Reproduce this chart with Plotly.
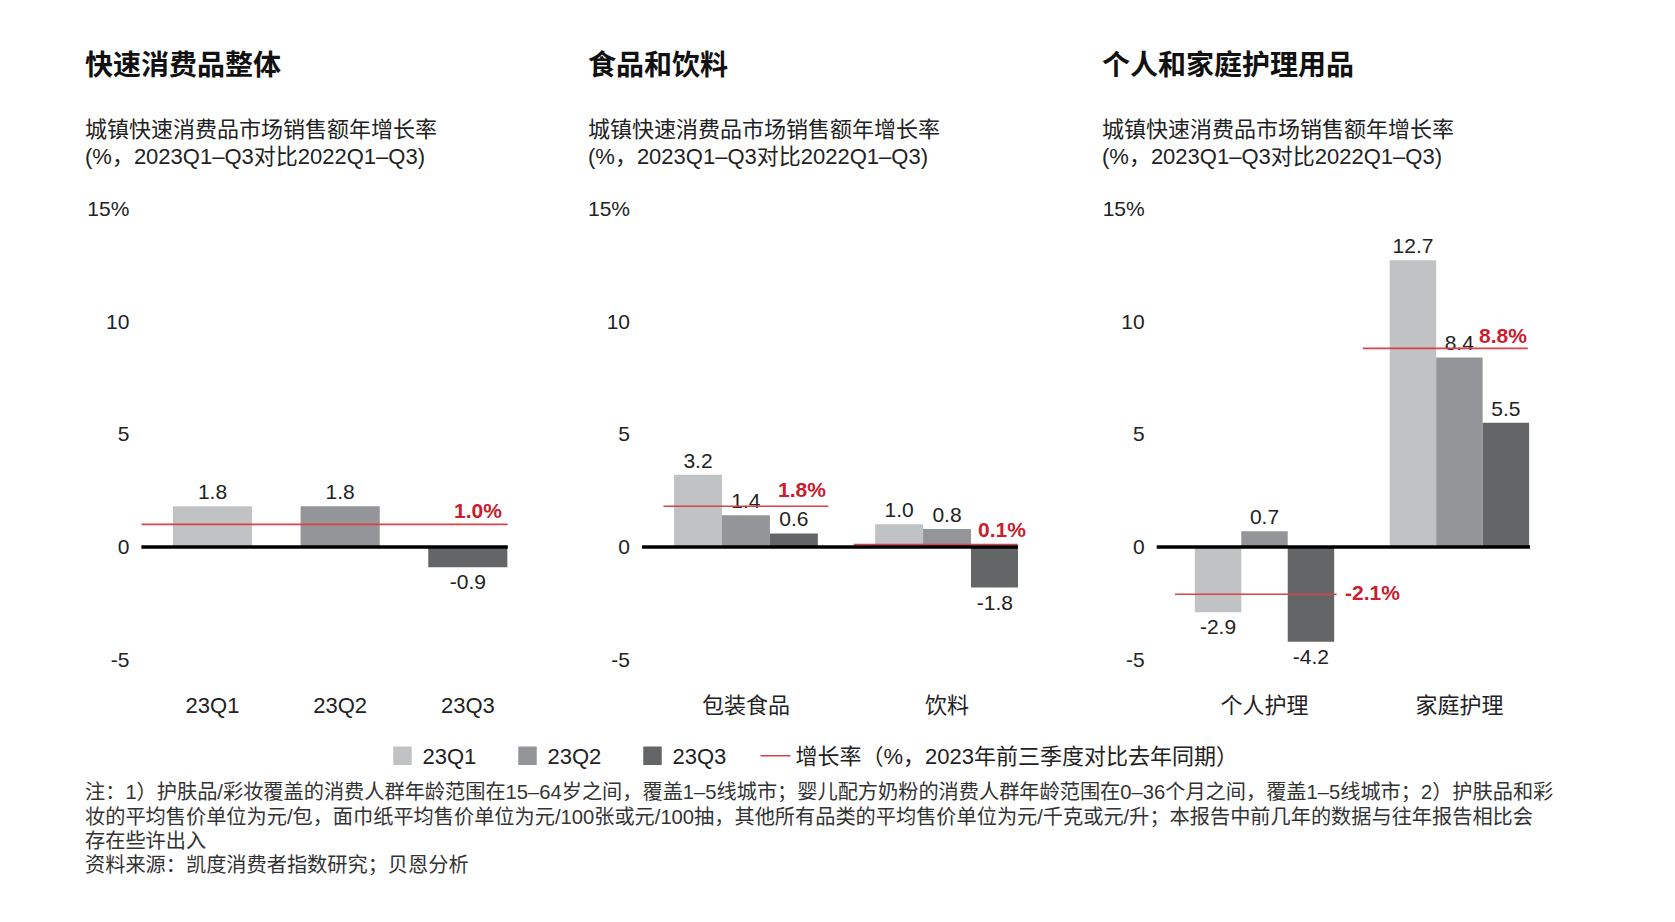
import plotly.graph_objects as go

# ---- data ----
quarters = ['23Q1', '23Q2', '23Q3']
overall_growth = [1.8, 1.8, -0.9]
overall_rate = 1.0

food_cats = ['包装食品', '饮料']
food_q1 = [3.2, 1.0]
food_q2 = [1.4, 0.8]
food_q3 = [0.6, -1.8]
food_rate = [1.8, 0.1]

care_cats = ['个人护理', '家庭护理']
care_q1 = [-2.9, 12.7]
care_q2 = [0.7, 8.4]
care_q3 = [-4.2, 5.5]
care_rate = [-2.1, 8.8]

y_ticks = [-5, 0, 5, 10, 15]
y_tick_text = ['-5', '0', '5', '10', '15%']

titles = ['快速消费品整体', '食品和饮料', '个人和家庭护理用品']
subtitle_lines = ['城镇快速消费品市场销售额年增长率', '(%，2023Q1–Q3对比2022Q1–Q3)']
rate_name = '增长率（%，2023年前三季度对比去年同期）'
notes = [
    '注：1）护肤品/彩妆覆盖的消费人群年龄范围在15–64岁之间，覆盖1–5线城市；婴儿配方奶粉的消费人群年龄范围在0–36个月之间，覆盖1–5线城市；2）护肤品和彩',
    '妆的平均售价单位为元/包，面巾纸平均售价单位为元/100张或元/100抽，其他所有品类的平均售价单位为元/千克或元/升；本报告中前几年的数据与往年报告相比会',
    '存在些许出入',
    '资料来源：凯度消费者指数研究；贝恩分析',
]

# ---- style ----
# page body keeps its default 8px margin, so the figure is sized to fit inside it
OFF = 8
W, H = 1675 - 2 * OFF, 922 - 2 * OFF
FONT = 'Liberation Sans, Arial, Noto Sans CJK SC, sans-serif'
q_colors = ['#C1C2C4', '#939598', '#646567']
RED_LINE = '#D8424B'
RED_TEXT = '#C8202E'
TXT = '#222222'


def px(x):
    return (x - OFF) / W


def py(y):
    # vertical placement tuned against the photographed page
    y = 1.0256 * y - 13.5
    return 1 - (y - OFF) / H


y_dom = [py(661), py(209.5)]
x_doms = [[px(141.4), px(507.8)], [px(642), px(1018)], [px(1156.7), px(1530)]]
x_ranges = [[-0.557, 2.313], [-0.517, 1.353], [-0.553, 1.362]]
title_x = [82.5, 586, 1099.5]

# extent of each red growth segment around its category (category units)
food_seg = [(-0.41, 0.41), (-0.464, 0.351)]
care_seg = [(-0.459, 0.37), (-0.495, 0.351)]
# label placement: xanchor, xshift, yanchor, yshift
overall_lab = ('right', -4, 'middle', 14)
food_lab = [('right', 0, 'middle', 17), ('right', 10, 'middle', 15)]
care_lab = [('left', 6, 'middle', 2), ('right', 1, 'middle', 13)]

fig = go.Figure()

# legend entries for the quarters
for name, col in zip(quarters, q_colors):
    fig.add_trace(go.Scatter(x=[None], y=[None], mode='markers', name=name,
                             marker=dict(symbol='square', size=16, color=col,
                                         line=dict(color=col, width=2.5)),
                             xaxis='x', yaxis='y', legend='legend'))

bar_text = dict(texttemplate='%{y:.1f}', textposition='outside',
                textfont=dict(size=21, color=TXT, family=FONT),
                cliponaxis=False, showlegend=False, hoverinfo='skip')

# panel 1: one bar per quarter
fig.add_trace(go.Bar(x=list(range(len(quarters))), y=overall_growth,
                     marker=dict(color=q_colors, line=dict(width=0)),
                     width=0.62, xaxis='x', yaxis='y', **bar_text))

# panels 2 and 3: grouped bars
for ax, series in [('2', [food_q1, food_q2, food_q3]), ('3', [care_q1, care_q2, care_q3])]:
    for vals, col in zip(series, q_colors):
        fig.add_trace(go.Bar(x=list(range(len(vals))), y=vals,
                             marker=dict(color=col, line=dict(width=0)),
                             xaxis='x' + ax, yaxis='y' + ax, **bar_text))

# growth rate lines
rate_x = [[x_ranges[0][0], x_ranges[0][1]]]
rate_y = [[overall_rate, overall_rate]]
for rates, segs in [(food_rate, food_seg), (care_rate, care_seg)]:
    xs, ys = [], []
    for i, (r, (a, b)) in enumerate(zip(rates, segs)):
        xs += [i + a, i + b, None]
        ys += [r, r, None]
    rate_x.append(xs)
    rate_y.append(ys)

for k, (xs, ys) in enumerate(zip(rate_x, rate_y)):
    suffix = '' if k == 0 else str(k + 1)
    fig.add_trace(go.Scatter(x=xs, y=ys, mode='lines', name=rate_name,
                             line=dict(color=RED_LINE, width=1.6),
                             legend='legend2', legendgroup='rate', showlegend=(k == 0),
                             xaxis='x' + suffix, yaxis='y' + suffix, hoverinfo='skip'))

annotations = []
shapes = []

# red rate labels (anchored just inside the axis range so they are not hidden)
rate_labels = [('', x_ranges[0][1] - 0.001, overall_rate, overall_lab)]
for ax, rates, segs, labs in [('2', food_rate, food_seg, food_lab), ('3', care_rate, care_seg, care_lab)]:
    for i, r in enumerate(rates):
        rate_labels.append((ax, i + segs[i][1], r, labs[i]))
for ax, xv, r, (xa, xs, ya, ysh) in rate_labels:
    annotations.append(dict(x=xv, y=r, xref='x' + ax, yref='y' + ax,
                            text='<b>%.1f%%</b>' % r, showarrow=False,
                            xanchor=xa, yanchor=ya, xshift=xs, yshift=ysh,
                            font=dict(size=21, color=RED_TEXT, family=FONT)))

# titles and subtitles
for tx, t in zip(title_x, titles):
    annotations.append(dict(x=px(tx), y=py(66.4), xref='paper', yref='paper',
                            text='<b>' + t + '</b>', showarrow=False,
                            xanchor='left', yanchor='middle',
                            font=dict(size=28, color='#111111', family=FONT)))
    for j, line in enumerate(subtitle_lines):
        annotations.append(dict(x=px(tx), y=py(130.7 + j * 26.8), xref='paper', yref='paper',
                                text=line, showarrow=False,
                                xanchor='left', yanchor='middle',
                                font=dict(size=22, color=TXT, family=FONT)))

# footnotes
for i, line in enumerate(notes):
    annotations.append(dict(x=px(82.5), y=py(793.7 + i * 24.3), xref='paper', yref='paper',
                            text=line, showarrow=False, xanchor='left', yanchor='middle',
                            font=dict(size=20.2, color='#333333', family=FONT)))

# zero lines
for ax in ['', '2', '3']:
    shapes.append(dict(type='line', xref='x' + ax + ' domain', yref='y' + ax,
                       x0=0, x1=1, y0=0, y1=0, layer='above',
                       line=dict(color='black', width=3.5)))

legend_common = dict(orientation='h', xanchor='left', y=py(757.3), yanchor='middle',
                     font=dict(size=22, color=TXT, family=FONT), bgcolor='rgba(0,0,0,0)')

layout = dict(
    width=W, height=H,
    margin=dict(l=0, r=0, t=0, b=0),
    paper_bgcolor='white', plot_bgcolor='white',
    font=dict(family=FONT, color=TXT),
    barmode='group', bargap=0.285, bargroupgap=0,
    annotations=annotations, shapes=shapes,
    legend=dict(x=px(382.5), entrywidth=80, **legend_common),
    legend2=dict(x=px(755.5), **legend_common),
)
cat_sets = [quarters, food_cats, care_cats]
for k in range(3):
    suffix = '' if k == 0 else str(k + 1)
    layout['xaxis' + suffix] = dict(domain=x_doms[k], range=x_ranges[k],
                                    tickvals=list(range(len(cat_sets[k]))),
                                    ticktext=cat_sets[k], anchor='y' + suffix,
                                    showgrid=False, zeroline=False, showline=False,
                                    ticks='', ticklabelstandoff=30, fixedrange=True,
                                    tickfont=dict(size=22, color=TXT, family=FONT))
    layout['yaxis' + suffix] = dict(domain=y_dom, range=[-5, 15],
                                    tickvals=y_ticks, ticktext=y_tick_text,
                                    anchor='x' + suffix,
                                    showgrid=False, zeroline=False, showline=False,
                                    ticks='', ticklabelstandoff=11, fixedrange=True,
                                    tickfont=dict(size=21, color=TXT, family=FONT))

fig.update_layout(**layout)
fig.write_html('out.html')
